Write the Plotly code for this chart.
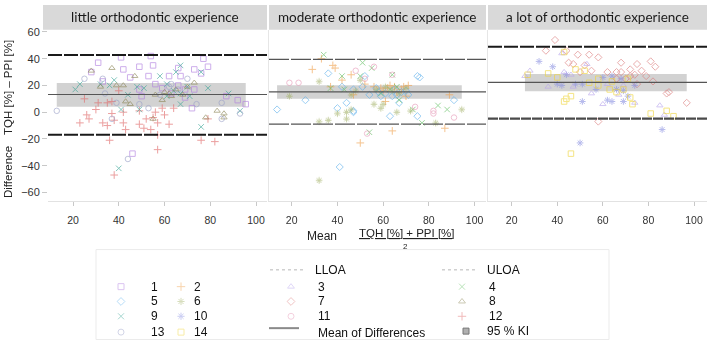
import plotly.graph_objects as go

W, H = 707, 341

# ---------------- data ----------------
PANEL_TITLES = ["little orthodontic experience",
                "moderate orthodontic experience",
                "a lot of orthodontic experience"]

# (mean, difference) pairs, per panel and subject
LITTLE_S01 = [(41, 41), (54, 42), (77, 40), (31, 37), (49, 34), (55, 35), (66, 33), (79, 34), (73, 32),
              (28, 30), (42, 32), (67, 27), (53, 27), (62, 27), (76, 29), (45, 26), (33, 23), (56, 21),
              (66, 20), (69, 17), (73, 17), (63, 14), (69, 11), (87, 12), (92, 9), (95.5, 6), (72, 3),
              (50, 12), (46, -31), (59, 18), (49, 17)]
LITTLE_S12 = [(25, 10), (31, 7), (35, 7), (37, 8), (40, 16), (30, 2), (42, 0), (37, -1), (23, -8),
              (27, -5), (33, -8), (35, -10), (38, -6), (42, -8), (43, -13), (49, 1), (49, -9), (52, -5),
              (56, 0), (55, -4), (57, -8), (60, -2), (62, -9), (54, -13), (57, -17), (51, -12), (59, 3),
              (64, 3), (36, -21), (57, -28), (76, -21), (82, -22), (79, -5), (26, -2), (38, -47)]
LITTLE_S09 = [(21, 17), (23, 21), (32, 21), (38, 24), (48, 19), (51, 18), (58, 27), (67, 35), (65, 30),
              (76, 30), (79, 18), (88, 14), (76, -11), (40, -42), (41, 2), (49, 2), (67, 6), (71, 12),
              (44, 13), (61, 21), (70, 19), (93, 1), (36, 20), (61, 12), (64, 16), (67, 14)]
LITTLE_S08 = [(37, 33), (42, 20), (39, 20), (47, 27), (56, 13), (59, 9), (63, 12), (70, 19), (73, 22),
              (43, 8), (45, 6), (83, 1), (86, -1), (55, -5), (32, 19), (28, 31), (86, -4), (78, -4),
              (60, 15), (62, 14), (65, 17), (68, 13)]
LITTLE_S13 = [(12.9, 1), (25, 25), (34, 14), (37, -5), (44, -35), (49, 6), (39, 7), (74, 6), (85, 7),
              (85, -5), (93, -1), (63, 21), (53, 3), (70, 25), (33, 25), (66, 17), (58, 13), (62, 19)]

MODERATE_S02 = [(29, 32), (33, 40), (38, 35), (39, 33), (42, 24), (46, 28), (37, 19), (52, 21), (56, 19),
                (59, 18), (65, 19), (71, 20), (64, -14), (50, -23), (87, -12), (89, 13), (47, 13), (68, 17),
                (70, 12), (61, 8), (60, 16), (62, 18), (66, 15), (69, 19), (63, 20)]
MODERATE_S05 = [(13.6, 2), (26, 9), (36, 29), (40, 3), (44, 7), (47, 0), (41, -41), (47, 17), (52, 27),
                (57, 18), (63, -3), (64, 12), (67, 7), (75, 27), (76, 26), (91, 9), (59, 12), (51, 19),
                (42, 19), (54, 13), (66, 13), (70, 16), (75, -3), (47, 1), (58, 15), (61, 14), (65, 17),
                (68, 15), (71, 13)]
MODERATE_S04 = [(34, 43), (51, 37), (55, 33), (42, 27), (43, 17), (50, 27), (64, 28), (54, -15), (77, -8),
                (73, 2), (84, 5), (88, 2), (67, 9), (37, 18), (59, 14), (63, 17), (66, 19)]
MODERATE_S06 = [(19, 12), (32, 23), (36, -6), (40, -1), (44, 0), (44, -5), (48, 16), (56, 6), (59, 3),
                (66, 0), (72, 1), (83, -8), (94.4, 2), (46, 13), (50, 24), (60, 6), (32, -51), (32, -7),
                (46, 2), (57, 17), (61, 19), (64, 16), (67, 14), (70, 18)]
MODERATE_S11 = [(23, 22), (48, 31), (52, 25), (64, 28), (82, 1), (91, -4), (53, -16), (74, 4), (56, 34),
                (19, 22), (82, -1)]

ALOT_S07 = [(39, 54), (35, 46), (44, 46), (49, 43), (54, 43), (58, 41), (47, 36), (52, 35), (55, 31),
            (62, 30), (66, 30), (68, 37), (72, 32), (75, 36), (81, 38), (83, 34), (77, 31), (79, 27),
            (74, 28), (70, 25), (66, 25), (75, 21), (82, 23), (88, 14), (89, 15), (96.8, 7), (58, -7),
            (45, 37), (50, 30), (72, 27), (68, 30)]
ALOT_S10 = [(32, 38), (38, 34), (40, 21), (42, 20), (48, 21), (51, 21), (51, 8), (60, 26), (64, 27),
            (68, 25), (69, 16), (69, 8), (62, 9), (64, 8), (44, 28), (50, -23), (86, -13), (57, 17),
            (71, 12), (66, 17), (74, 20)]
ALOT_S03 = [(25.8, 27), (28, 31), (36, 19), (42, 44), (43, 30), (46, 28), (53, 36), (55, 14), (60, 6),
            (74, 7), (85, 5), (87, -2), (69, 20), (62, 21), (47, 19), (67, 13)]
ALOT_S14 = [(27, 28), (36, 29), (43, 45), (44, 10), (43, 8), (46, 12), (48, 32), (58, 25), (58, 20),
            (63, 17), (66, 15), (69, 17), (72, 11), (73, 6), (81, -1), (88, 1), (91, -3), (46, -31),
            (52, 31), (40, 26), (54, 22), (64, 23), (71, 25)]

PANEL_DATA = [
    [(1, LITTLE_S01), (12, LITTLE_S12), (9, LITTLE_S09), (8, LITTLE_S08), (13, LITTLE_S13)],
    [(2, MODERATE_S02), (5, MODERATE_S05), (4, MODERATE_S04), (6, MODERATE_S06), (11, MODERATE_S11)],
    [(7, ALOT_S07), (10, ALOT_S10), (3, ALOT_S03), (14, ALOT_S14)],
]

MEAN_DIFF = [13.2, 15.2, 22.3]
ULOA = [42.7, 39.5, 48.9]
LLOA = [-16.9, -9.0, -4.8]
KI_LOW = [4.1, 10.0, 15.7]
KI_HIGH = [21.8, 20.1, 28.5]

X_TICKS = [20, 40, 60, 80, 100]
Y_TICKS = [-60, -40, -20, 0, 20, 40, 60]

# ---------------- styles ----------------
SYMBOL = {1: 'square-open', 2: 'cross-thin-open', 3: 'triangle-up-open', 4: 'x-thin-open',
          5: 'diamond-open', 6: 'asterisk-open', 7: 'diamond-open', 8: 'triangle-up-open',
          9: 'x-thin-open', 10: 'asterisk-open', 11: 'circle-open', 12: 'cross-thin-open',
          13: 'circle-open', 14: 'square-open'}
COLOR = {1: '#b07ee0', 2: '#f0a04b', 3: '#b9a6ee', 4: '#62c062', 5: '#5fb2ee', 6: '#a6b46c',
         7: '#dd7c7c', 8: '#8c8656', 9: '#38a596', 10: '#8a90e2', 11: '#e597b6', 12: '#e06666',
         13: '#9aa0c8', 14: '#efd53a'}

FONT = "Liberation Sans, Arial, sans-serif"


def fx(px):
    return px / W


def fy(py):
    return 1 - py / H


PANEL_PX = [(48, 267), (269, 486), (488, 707)]
HEADER_PX = [(43, 267), (269, 486), (488, 707)]
X_RANGES = [(9.07, 104.8), (10.07, 105.0), (9.6, 105.7)]
Y_RANGE = (-66.4, 61.7)
Y_DOM = (fy(199.3), fy(26))

LOA_STYLE = [
    (dict(color='#1a1a1a', width=2, dash='14px,2px'), dict(color='#1a1a1a', width=2, dash='14px,2px')),
    (dict(color='#555555', width=1.3, dash='20px,2px'), dict(color='#555555', width=1.3, dash='20px,2px')),
    (dict(color='#1a1a1a', width=2, dash='14px,2px'), dict(color='#4a4a4a', width=2.2, dash='10px,1px')),
]

fig = go.Figure()
shapes = []
annotations = []
layout_axes = {}

for i in range(3):
    n = '' if i == 0 else str(i + 1)
    xa, ya = 'x' + n, 'y' + n
    # band first (below points)
    xs_all = [p[0] for _, pts in PANEL_DATA[i] for p in pts]
    shapes.append(dict(type='rect', xref=xa, yref=ya, x0=min(xs_all), x1=max(xs_all),
                       y0=KI_LOW[i], y1=KI_HIGH[i], fillcolor='#d2d2d2', line=dict(width=0),
                       layer='below'))
    for subj, pts in PANEL_DATA[i]:
        fig.add_trace(go.Scatter(
            x=[p[0] for p in pts], y=[p[1] for p in pts], mode='markers',
            xaxis=xa, yaxis=ya, showlegend=False, opacity=0.62,
            marker=dict(symbol=SYMBOL[subj], size=5.5, color=COLOR[subj],
                        line=dict(width=1, color=COLOR[subj]))))
    up, lo = LOA_STYLE[i]
    shapes.append(dict(type='line', xref=xa + ' domain', yref=ya, x0=0, x1=1,
                       y0=ULOA[i], y1=ULOA[i], line=up, layer='above'))
    shapes.append(dict(type='line', xref=xa + ' domain', yref=ya, x0=0, x1=1,
                       y0=LLOA[i], y1=LLOA[i], line=lo, layer='above'))
    shapes.append(dict(type='line', xref=xa + ' domain', yref=ya, x0=0, x1=1,
                       y0=MEAN_DIFF[i], y1=MEAN_DIFF[i], line=dict(color='#555555', width=1.1),
                       layer='above'))
    # header strip
    h0, h1 = HEADER_PX[i]
    shapes.append(dict(type='rect', xref='paper', yref='paper', x0=fx(h0), x1=fx(h1),
                       y0=fy(26), y1=fy(1), fillcolor='#d9d9d9', line=dict(width=0)))
    annotations.append(dict(text=PANEL_TITLES[i], xref='paper', yref='paper',
                            x=fx((h0 + h1) / 2), y=fy(13.5), showarrow=False,
                            xanchor='center', yanchor='middle',
                            font=dict(family='Lato, Carlito, sans-serif', size=13.5, color='#1a1a1a')))

    p0, p1 = PANEL_PX[i]
    layout_axes['xaxis' + n] = dict(
        domain=[fx(p0), fx(p1)], range=list(X_RANGES[i]), anchor=ya,
        tickvals=X_TICKS, ticks='outside', ticklen=4, tickcolor='#c8c8c8',
        tickfont=dict(family=FONT, size=10.5, color='#333333'), ticklabelstandoff=5,
        showgrid=False, zeroline=False, showline=True, linecolor='#e2e2e2', linewidth=1)
    layout_axes['yaxis' + n] = dict(
        domain=list(Y_DOM), range=list(Y_RANGE), anchor=xa,
        tickvals=Y_TICKS, showticklabels=(i == 0), ticks='outside' if i == 0 else '',
        ticklen=5, tickcolor='#c8c8c8',
        tickfont=dict(family=FONT, size=11, color='#333333'),
        showgrid=False, zeroline=False, showline=(i > 0), linecolor='#e6e6e6', linewidth=1)

# ---------------- axis titles ----------------
annotations += [
    dict(text='TQH [%] – PPI [%]', xref='paper', yref='paper', x=fx(8), y=fy(85),
         textangle=-90, showarrow=False, xanchor='center', yanchor='middle',
         font=dict(family=FONT, size=11.5, color='#222222')),
    dict(text='Difference', xref='paper', yref='paper', x=fx(8), y=fy(170),
         textangle=-90, showarrow=False, xanchor='center', yanchor='middle',
         font=dict(family=FONT, size=11.5, color='#222222')),
    dict(text='Mean', xref='paper', yref='paper', x=fx(322), y=fy(235), showarrow=False,
         xanchor='center', yanchor='middle', font=dict(family=FONT, size=12, color='#222222')),
    dict(text='<u>TQH [%] + PPI [%]</u>', xref='paper', yref='paper', x=fx(407), y=fy(231.5),
         showarrow=False, xanchor='center', yanchor='middle',
         font=dict(family=FONT, size=11.5, color='#222222')),
    dict(text='2', xref='paper', yref='paper', x=fx(406), y=fy(245), showarrow=False,
         xanchor='center', yanchor='middle', font=dict(family=FONT, size=8, color='#222222')),
]

# ---------------- legend (drawn manually) ----------------
shapes.append(dict(type='rect', xref='paper', yref='paper', x0=fx(96), x1=fx(609),
                   y0=fy(339.5), y1=fy(248.5), line=dict(color='#ebebeb', width=1)))

LEG_COLS = [(121, 149, [1, 5, 9, 13]), (181, 192, [2, 6, 10, 14]),
            (291, 316, [3, 7, 11]), (462, 487, [4, 8, 12])]
LEG_ROWS = [286, 301, 316, 332]

layout_axes['xaxis4'] = dict(domain=[0, 1], range=[0, W], visible=False, anchor='y4', fixedrange=True)
layout_axes['yaxis4'] = dict(domain=[0, 1], range=[H, 0], visible=False, anchor='x4', fixedrange=True)

for sx, tx, subs in LEG_COLS:
    for r, subj in enumerate(subs):
        fig.add_trace(go.Scatter(
            x=[sx], y=[LEG_ROWS[r]], mode='markers', xaxis='x4', yaxis='y4',
            showlegend=False, hoverinfo='skip', opacity=0.45,
            marker=dict(symbol=SYMBOL[subj], size=6, color=COLOR[subj],
                        line=dict(width=1, color=COLOR[subj]))))
        annotations.append(dict(text=str(subj), xref='paper', yref='paper', x=fx(tx),
                                y=fy(LEG_ROWS[r]), showarrow=False, xanchor='left',
                                yanchor='middle', font=dict(family=FONT, size=12, color='#111111')))

# KI swatch
fig.add_trace(go.Scatter(x=[466], y=[331], mode='markers', xaxis='x4', yaxis='y4',
                         showlegend=False, hoverinfo='skip',
                         marker=dict(symbol='square', size=6, color='#b0b0b0',
                                     line=dict(width=1, color='#777777'))))

shapes += [
    dict(type='line', xref='paper', yref='paper', x0=fx(270), x1=fx(305), y0=fy(269), y1=fy(269),
         line=dict(color='#b8b8b8', width=1, dash='dot')),
    dict(type='line', xref='paper', yref='paper', x0=fx(442), x1=fx(477), y0=fy(269), y1=fy(269),
         line=dict(color='#b8b8b8', width=1, dash='dot')),
    dict(type='line', xref='paper', yref='paper', x0=fx(269), x1=fx(299), y0=fy(328), y1=fy(328),
         line=dict(color='#8a8a8a', width=2)),
]
for txt, x, y in [('LLOA', 313, 269), ('ULOA', 485, 269),
                  ('Mean of Differences', 316, 333), ('95 % KI', 485, 331)]:
    annotations.append(dict(text=txt, xref='paper', yref='paper', x=fx(x), y=fy(y),
                            showarrow=False, xanchor='left', yanchor='middle',
                            font=dict(family=FONT, size=12, color='#111111')))

fig.update_layout(
    width=W, height=H, margin=dict(l=0, r=0, t=0, b=0),
    paper_bgcolor='white', plot_bgcolor='rgba(0,0,0,0)',
    shapes=shapes, annotations=annotations, showlegend=False,
    **layout_axes)

POST = ("document.documentElement.style.margin='0px';"
        "document.body.style.margin='0px';document.body.style.padding='0px';"
        "var gd=document.getElementById('{plot_id}');"
        "gd.style.position='absolute';gd.style.left='0px';gd.style.top='0px';")

fig.write_html("out.html", config={'displayModeBar': False, 'staticPlot': True},
               post_script=POST)
